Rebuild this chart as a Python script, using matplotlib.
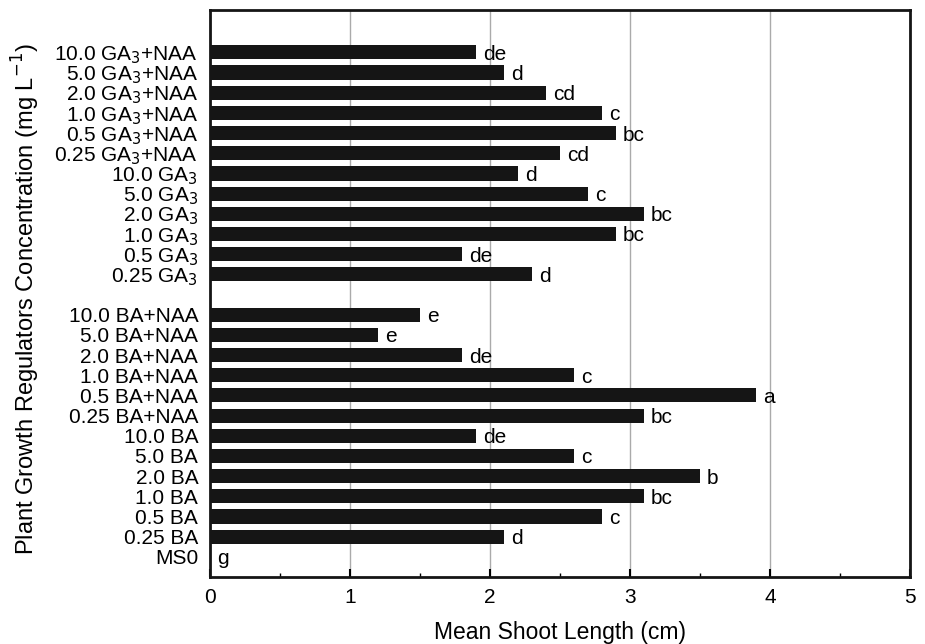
import matplotlib
matplotlib.use("Agg")
import matplotlib.pyplot as plt
from matplotlib.ticker import MultipleLocator, FixedLocator

plt.rcParams['font.family'] = ['Liberation Sans', 'DejaVu Sans']

# bottom to top
labels = ['MS0', '0.25 BA', '0.5 BA', '1.0 BA', '2.0 BA', '5.0 BA', '10.0 BA',
          '0.25 BA+NAA', '0.5 BA+NAA', '1.0 BA+NAA', '2.0 BA+NAA', '5.0 BA+NAA', '10.0 BA+NAA',
          '',
          '0.25 GA$_3$', '0.5 GA$_3$', '1.0 GA$_3$', '2.0 GA$_3$', '5.0 GA$_3$', '10.0 GA$_3$',
          '0.25 GA$_3$+NAA', '0.5 GA$_3$+NAA', '1.0 GA$_3$+NAA', '2.0 GA$_3$+NAA',
          '5.0 GA$_3$+NAA', '10.0 GA$_3$+NAA']
values = [0, 2.1, 2.8, 3.1, 3.5, 2.6, 1.9,
          3.1, 3.9, 2.6, 1.8, 1.2, 1.5,
          None,
          2.3, 1.8, 2.9, 3.1, 2.7, 2.2,
          2.5, 2.9, 2.8, 2.4, 2.1, 1.9]
letters = ['g', 'd', 'c', 'bc', 'b', 'c', 'de',
           'bc', 'a', 'c', 'de', 'e', 'e',
           '',
           'd', 'de', 'bc', 'bc', 'c', 'd',
           'cd', 'bc', 'c', 'cd', 'd', 'de']

fig = plt.figure(figsize=(9.25, 6.44), dpi=100)
ax = fig.add_axes([210/925, 1-577/644, 700/925, 567/644])

ax.grid(axis='x', color='#aaaaaa', linewidth=1)
ax.set_axisbelow(True)

for i, (v, l) in enumerate(zip(values, letters)):
    if v is None:
        continue
    if v > 0:
        ax.barh(i, v, height=0.7, color='#151515', edgecolor='none')
    ax.text(v + 0.05, i - 0.1, l, fontsize=15, va='center', ha='left')

ax.set_xlim(0, 5)
ax.set_ylim(-1, 27.1)
ax.set_yticks(range(len(labels)))
ax.set_yticklabels(labels, fontsize=15)
ax.yaxis.set_minor_locator(FixedLocator(range(1, len(labels), 2)))
ax.xaxis.set_major_locator(MultipleLocator(1))
ax.xaxis.set_minor_locator(MultipleLocator(0.5))
ax.tick_params(axis='x', which='major', direction='in', length=6, width=1.5, labelsize=15, pad=8)
ax.tick_params(axis='x', which='minor', direction='in', length=3, width=1)
ax.tick_params(axis='y', which='major', left=False, right=False, pad=5)
ax.tick_params(axis='y', which='minor', direction='in', length=4, width=1, left=True, right=True)
ax.set_xlabel('Mean Shoot Length (cm)', fontsize=16.5, labelpad=10)
ax.set_ylabel('Plant Growth Regulators Concentration (mg L$^{-1}$)', fontsize=17)
ax.yaxis.set_label_coords(-0.24, 0.49)
for s in ax.spines.values():
    s.set_linewidth(2)
    s.set_color('#151515')

fig.savefig('out.png', dpi=100)
